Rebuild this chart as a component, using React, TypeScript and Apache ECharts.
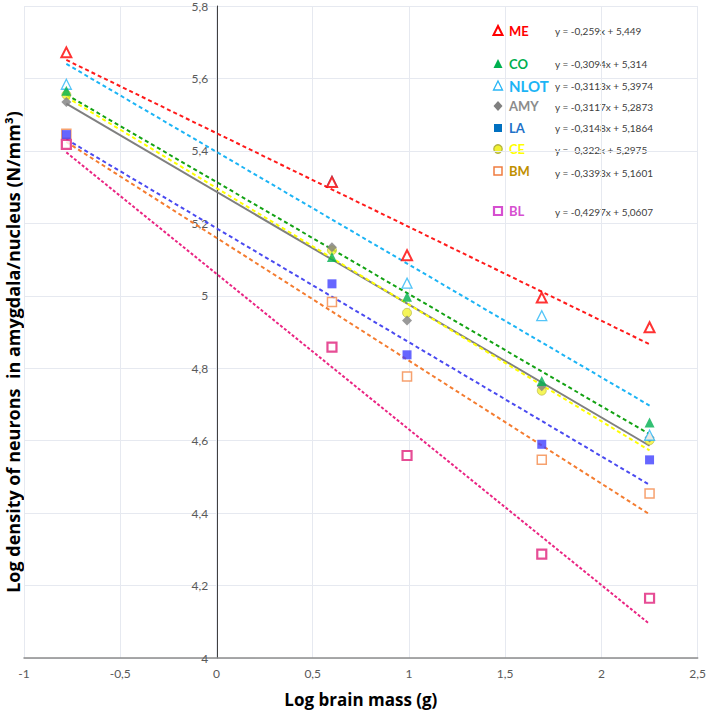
import React, { useEffect, useRef } from "react";
import * as echarts from "echarts";

const xValues = [-0.78, 0.6, 0.99, 1.69, 2.25];
const groupNames = ["ME", "CO", "NLOT", "AMY", "LA", "CE", "BM", "BL"];
const meValues = [5.672, 5.314, 5.112, 4.995, 4.913];
const coValues = [5.566, 5.107, 4.997, 4.765, 4.65];
const nlotValues = [5.584, 5.316, 5.035, 4.945, 4.615];
const amyValues = [5.535, 5.134, 4.932, 4.75, 4.609];
const laValues = [5.445, 5.033, 4.837, 4.59, 4.547];
const ceValues = [5.555, 5.126, 4.953, 4.738, 4.601];
const bmValues = [5.447, 4.983, 4.777, 4.547, 4.454];
const blValues = [5.418, 4.858, 4.559, 4.287, 4.165];
const slopes = [-0.259, -0.3094, -0.3113, -0.3117, -0.3148, -0.322, -0.3393, -0.4297];
const intercepts = [5.449, 5.314, 5.3974, 5.2873, 5.1864, 5.2975, 5.1601, 5.0607];
const equationLabels = [
  "y = -0,259x + 5,449",
  "y = -0,3094x + 5,314",
  "y = -0,3113x + 5,3974",
  "y = -0,3117x + 5,2873",
  "y = -0,3148x + 5,1864",
  "y = -0,322x + 5,2975",
  "y = -0,3393x + 5,1601",
  "y = -0,4297x + 5,0607",
];
const xTitle = "Log brain mass (g)";
const yTitle = "Log density of neurons  in amygdala/nucleus (N/mm³)";

const allValues = [meValues, coValues, nlotValues, amyValues, laValues, ceValues, bmValues, blValues];

const FONT = "Lato, 'Open Sans', sans-serif";
const TITLE_FONT = "'Open Sans', sans-serif";

type Style = {
  symbol: string;
  size: number;
  fill: string;
  border: string;
  borderWidth: number;
  line: string;
  lineType: any;
  lineWidth: number;
  labelColor: string;
  legendFill: string;
  legendBorder: string;
  labelSize: number;
};

const styles: Style[] = [
  { symbol: "triangle", size: 10, fill: "#ffffff", border: "#ff0000", borderWidth: 2, line: "#ff1a1a", lineType: [4, 3], lineWidth: 2, labelColor: "#ff0000", legendFill: "#ffffff", legendBorder: "#ff0000", labelSize: 13 },
  { symbol: "triangle", size: 10, fill: "#00b050", border: "#00b050", borderWidth: 0, line: "#13a213", lineType: [4, 3], lineWidth: 2, labelColor: "#00b050", legendFill: "#00b050", legendBorder: "#00b050", labelSize: 13 },
  { symbol: "triangle", size: 10, fill: "#ffffff", border: "#29b6f6", borderWidth: 1.3, line: "#1cb4f5", lineType: [4, 3], lineWidth: 2, labelColor: "#1cb4f5", legendFill: "#ffffff", legendBorder: "#29b6f6", labelSize: 15 },
  { symbol: "diamond", size: 10, fill: "#808080", border: "#808080", borderWidth: 0, line: "#808080", lineType: "solid", lineWidth: 2, labelColor: "#8c8c8c", legendFill: "#808080", legendBorder: "#808080", labelSize: 13 },
  { symbol: "rect", size: 9, fill: "#4040ff", border: "#4040ff", borderWidth: 0, line: "#4a4af0", lineType: [4, 3], lineWidth: 2, labelColor: "#1f72c8", legendFill: "#0070c0", legendBorder: "#0070c0", labelSize: 13 },
  { symbol: "circle", size: 9, fill: "#f2f230", border: "#b5b540", borderWidth: 0.8, line: "#ffff00", lineType: [4, 3], lineWidth: 2, labelColor: "#ffff00", legendFill: "#f2f230", legendBorder: "#b5b540", labelSize: 13 },
  { symbol: "rect", size: 9, fill: "#ffffff", border: "#f4894a", borderWidth: 1.5, line: "#f47c30", lineType: [4, 3], lineWidth: 2, labelColor: "#bf9000", legendFill: "#ffffff", legendBorder: "#f07c40", labelSize: 13 },
  { symbol: "rect", size: 9, fill: "#ffffff", border: "#e0207a", borderWidth: 2.2, line: "#ea2583", lineType: [3, 2], lineWidth: 2, labelColor: "#d64fd0", legendFill: "#ffffff", legendBorder: "#d64fd0", labelSize: 13 },
];

const legendRowY = [31, 64, 86, 106, 128, 149, 171, 211];
const legendEqY = [31, 64, 86, 107, 128, 150, 173, 212];

const GRID_LEFT = 24;
const GRID_RIGHT = 9;
const WIDTH = 709;
const X_MIN = -1;
const X_MAX = 2.5;

function fmt(v: number) {
  return String(Number(v.toFixed(1))).replace(".", ",");
}

function legendMarker(i: number, cx: number, cy: number): any {
  const s = styles[i];
  const style = { fill: s.legendFill, stroke: s.legendBorder, lineWidth: s.borderWidth > 0 ? Math.max(1.3, s.borderWidth) : 0 };
  if (s.symbol === "triangle") {
    return { type: "polygon", shape: { points: [[cx, cy - 5], [cx + 4.5, cy + 4], [cx - 4.5, cy + 4]] }, style };
  }
  if (s.symbol === "diamond") {
    return { type: "polygon", shape: { points: [[cx, cy - 5], [cx + 4.5, cy], [cx, cy + 5], [cx - 4.5, cy]] }, style };
  }
  if (s.symbol === "circle") {
    return { type: "circle", shape: { cx, cy, r: 4.2 }, style };
  }
  return { type: "rect", shape: { x: cx - 4, y: cy - 4, width: 8, height: 8 }, style };
}

export default function App() {
  const ref = useRef<HTMLDivElement>(null);

  useEffect(() => {
    if (!ref.current) return;
    const chart = echarts.init(ref.current, null, { renderer: "svg" });

    const series: any[] = [];
    const xStart = xValues[0];
    const xEnd = xValues[xValues.length - 1];
    groupNames.forEach((name, i) => {
      const s = styles[i];
      series.push({
        name: name + " trend",
        type: "line",
        symbol: "none",
        silent: true,
        z: 2,
        data: [
          [xStart, slopes[i] * xStart + intercepts[i]],
          [xEnd, slopes[i] * xEnd + intercepts[i]],
        ],
        lineStyle: { color: s.line, width: s.lineWidth, type: s.lineType },
      });
    });
    groupNames.forEach((name, i) => {
      const s = styles[i];
      series.push({
        name,
        type: "scatter",
        symbol: s.symbol,
        symbolSize: s.size,
        z: 10 - i,
        data: xValues.map((x, k) => [x, allValues[i][k]]),
        itemStyle: { color: s.fill, borderColor: s.border, borderWidth: s.borderWidth },
      });
    });

    const graphics: any[] = [];
    groupNames.forEach((name, i) => {
      const s = styles[i];
      graphics.push(legendMarker(i, 498, legendRowY[i]));
      graphics.push({
        type: "text",
        x: 509,
        y: legendRowY[i],
        style: {
          text: name,
          fill: s.labelColor,
          font: `bold ${s.labelSize}px ${FONT}`,
          textVerticalAlign: "middle",
          textAlign: "left",
        },
      });
      graphics.push({
        type: "text",
        x: 555,
        y: legendEqY[i],
        style: {
          text: equationLabels[i],
          fill: "#404040",
          font: `10px ${FONT}`,
          textVerticalAlign: "middle",
          textAlign: "left",
        },
      });
    });
    graphics.push({
      type: "text",
      x: 13,
      y: 352,
      rotation: Math.PI / 2,
      style: {
        text: yTitle,
        fill: "#000000",
        font: `bold 18px ${TITLE_FONT}`,
        textAlign: "center",
        textVerticalAlign: "middle",
      },
    });

    // place the y axis on x = 0 (Excel style crossing)
    const plotWidth = WIDTH - GRID_LEFT - GRID_RIGHT;
    const zeroOffset = -((0 - X_MIN) / (X_MAX - X_MIN)) * plotWidth;

    chart.setOption({
      animation: false,
      backgroundColor: "#ffffff",
      grid: { left: GRID_LEFT, right: GRID_RIGHT, top: 4, bottom: 51, containLabel: false },
      xAxis: {
        type: "value",
        min: X_MIN,
        max: X_MAX,
        interval: 0.5,
        name: xTitle,
        nameLocation: "middle",
        nameGap: 33,
        nameTextStyle: { fontFamily: TITLE_FONT, fontWeight: "bold", fontSize: 17, color: "#000000" },
        axisLine: { show: true, onZero: false, lineStyle: { color: "#8c8c8c", width: 1.5 } },
        axisTick: { show: false },
        axisLabel: { formatter: fmt, color: "#595959", fontSize: 12, fontFamily: FONT, margin: 9 },
        splitLine: { show: true, lineStyle: { color: "#e6e9f0", width: 1 } },
      },
      yAxis: {
        type: "value",
        min: 4,
        max: 5.8,
        interval: 0.2,
        position: "left",
        offset: zeroOffset,
        axisLine: { show: true, onZero: false, lineStyle: { color: "#404040", width: 1 } },
        axisTick: { show: false },
        axisLabel: { formatter: fmt, color: "#595959", fontSize: 12, fontFamily: FONT, margin: 9 },
        splitLine: { show: true, lineStyle: { color: "#e6e9f0", width: 1 } },
      },
      series,
      graphic: graphics,
    });

    return () => chart.dispose();
  }, []);

  return <div ref={ref} style={{ position: "absolute", left: 0, top: 0, width: WIDTH, height: 713 }} />;
}
